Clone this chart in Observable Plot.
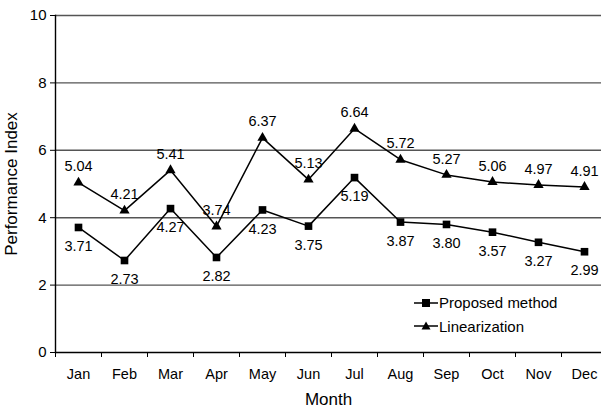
<!DOCTYPE html>
<html>
<head>
<meta charset="utf-8">
<script src="https://cdn.jsdelivr.net/npm/d3@7"></script>
<script src="https://cdn.jsdelivr.net/npm/@observablehq/plot@0.6"></script>
<style>
  html, body { margin: 0; padding: 0; background: white; }
  #wrap { position: relative; width: 601px; height: 407px; overflow: hidden; font-family: "Liberation Sans", Arial, sans-serif; }
  #legend { position: absolute; left: 414px; top: 291px; font-size: 15px; color: black; }
  .row { display: flex; align-items: center; height: 23.5px; }
  .row svg { display: block; margin-right: 1px; }
</style>
</head>
<body>
<div id="wrap"></div>
<script>
const months = ["Jan","Feb","Mar","Apr","May","Jun","Jul","Aug","Sep","Oct","Nov","Dec"];
const proposed = [3.71,2.73,4.27,2.82,4.23,3.75,5.19,3.87,3.80,3.57,3.27,2.99];
const linear = [5.04,4.21,5.41,3.74,6.37,5.13,6.64,5.72,5.27,5.06,4.97,4.91];
const yTicks = [0,2,4,6,8,10];
const seriesNames = ["Proposed method","Linearization"];

const rows = months.map((m,i)=>({month:m, proposed:proposed[i], linear:linear[i]}));

const chart = Plot.plot({
  width: 601,
  height: 407,
  marginLeft: 55,
  marginTop: 15,
  marginBottom: 55,
  marginRight: 0,
  style: {fontFamily: '"Liberation Sans", Arial, sans-serif', fontSize: "14.5px", color: "black", background: "white", overflow: "hidden"},
  x: {type: "point", domain: months, range: [55, 607], padding: 0.5},
  y: {domain: [0, 10]},
  marks: [
    Plot.gridY(yTicks.filter(d=>d>0), {stroke: "#555", strokeOpacity: 1, strokeWidth: 1.4}),
    Plot.axisY({ticks: yTicks, tickSize: 5, tickPadding: 4, fontSize: 15, label: null}),
    Plot.axisY({ticks: [], tickSize: 0, fontSize: 17, label: "Performance Index", labelAnchor: "center", labelOffset: 51, labelArrow: "none"}),
    Plot.axisX({tickSize: 5, tickFormat: () => "", dx: -23, label: null}),
    Plot.axisX({tickSize: 0, tickPadding: 16, fontSize: 14.5, label: null}),
    Plot.axisX({ticks: [], tickSize: 0, fontSize: 17, label: "Month", labelAnchor: "center", labelOffset: 52, labelArrow: "none"}),
    Plot.frame({anchor: "left", stroke: "black", strokeWidth: 1.4}),
    Plot.ruleY([0], {stroke: "black", strokeWidth: 1.4}),
    Plot.lineY(rows, {x: "month", y: "proposed", stroke: "black", strokeWidth: 1.5}),
    Plot.lineY(rows, {x: "month", y: "linear", stroke: "black", strokeWidth: 1.5}),
    Plot.dot(rows, {x: "month", y: "proposed", symbol: "square", r: 4.3, fill: "black"}),
    Plot.dot(rows, {x: "month", y: "linear", symbol: "triangle", r: 3.8, fill: "black"}),
    Plot.text(rows, {x: "month", y: "proposed", text: d => d.proposed.toFixed(2), dy: 19, fontSize: 14.5}),
    Plot.text(rows, {x: "month", y: "linear", text: d => d.linear.toFixed(2), dy: -16, fontSize: 14.5})
  ]
});
const wrap = document.getElementById("wrap");
wrap.appendChild(chart);

const legend = document.createElement("div");
legend.id = "legend";
const syms = ["square","triangle"];
seriesNames.forEach((name, i) => {
  const row = document.createElement("div");
  row.className = "row";
  const sz = 24, h = 12;
  let marker = syms[i] === "square"
    ? `<rect x="${sz/2-4}" y="${h/2-4}" width="8" height="8" fill="black"/>`
    : `<path d="M${sz/2},${h/2-4.5}L${sz/2+4.5},${h/2+3.5}L${sz/2-4.5},${h/2+3.5}Z" fill="black"/>`;
  row.innerHTML = `<svg width="${sz}" height="${h}"><line x1="0" x2="${sz}" y1="${h/2}" y2="${h/2}" stroke="black" stroke-width="1.5"/>${marker}</svg><span>${name}</span>`;
  legend.appendChild(row);
});
wrap.appendChild(legend);
</script>
</body>
</html>
